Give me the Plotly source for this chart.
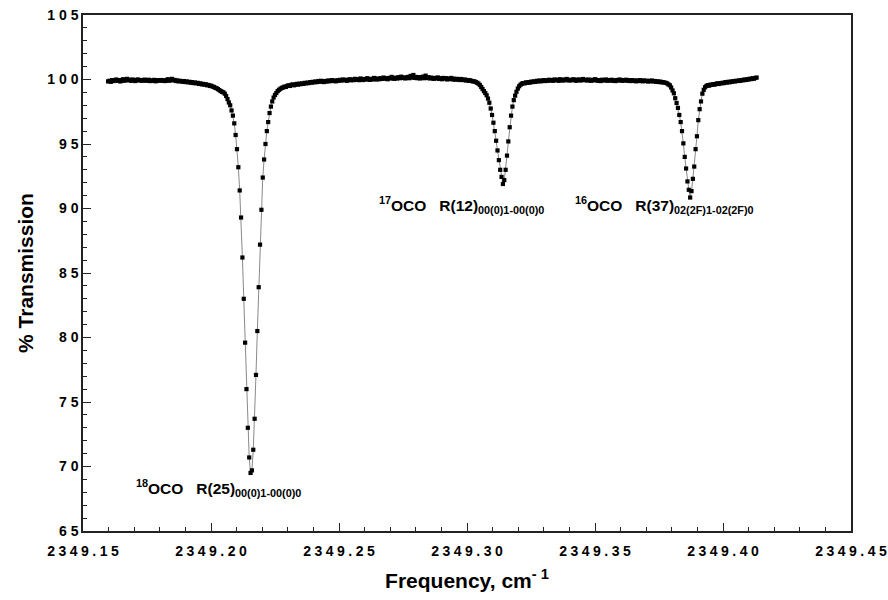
import plotly.graph_objects as go

# Sampling grid of the spectrum (cm-1)
FREQ_START = 2349.1598
FREQ_STEP = 0.00053

# % Transmission, one value per sample
transmission = [
    99.85, 99.9, 99.82, 99.95, 99.88, 99.92, 100.0, 99.9, 99.95, 99.85,
    99.92, 100.02, 99.9, 99.97, 100.05, 99.93, 99.98, 99.9, 100.0, 99.95,
    99.88, 99.97, 100.0, 99.92, 99.96, 99.9, 99.95, 99.99, 99.9, 99.94,
    99.98, 99.88, 99.93, 99.9, 99.97, 99.86, 99.92, 99.95, 99.9, 99.96,
    99.9, 99.94, 99.88, 99.95, 100.02, 99.9, 99.96, 100.05, 99.93, 99.97,
    99.88, 99.93, 99.85, 99.9, 99.87, 99.82, 99.88, 99.8, 99.85, 99.78,
    99.82, 99.75, 99.8, 99.72, 99.77, 99.7, 99.74, 99.66, 99.7, 99.62,
    99.66, 99.6, 99.63, 99.55, 99.58, 99.5, 99.52, 99.45, 99.42, 99.36,
    99.32, 99.25, 99.18, 99.1, 99.05, 99.0, 98.9, 98.72, 98.48, 98.22,
    98.0, 97.6, 97.2, 96.6, 95.7, 94.6, 93.2, 91.4, 89.3, 86.2,
    83.0, 79.6, 76.0, 73.0, 70.7, 69.5, 69.7, 71.3, 73.7, 77.1,
    80.5, 83.9, 87.2, 89.9, 92.4, 93.8, 95.0, 96.0, 96.7, 97.4,
    97.9, 98.3, 98.6, 98.8, 98.95, 99.1, 99.2, 99.28, 99.35, 99.38,
    99.45, 99.42, 99.5, 99.55, 99.5, 99.58, 99.62, 99.55, 99.6, 99.66,
    99.6, 99.68, 99.64, 99.7, 99.66, 99.74, 99.7, 99.76, 99.72, 99.8,
    99.75, 99.82, 99.78, 99.85, 99.8, 99.88, 99.82, 99.9, 99.85, 99.8,
    99.88, 99.84, 99.92, 99.86, 99.9, 99.95, 99.88, 99.92, 99.86, 99.94,
    99.9, 99.97, 99.92, 100.0, 99.94, 99.98, 99.9, 99.96, 100.02, 99.94,
    100.0, 99.95, 100.05, 99.98, 100.02, 99.95, 100.08, 100.0, 99.96, 100.04,
    100.0, 100.1, 100.02, 99.97, 100.05, 100.0, 100.12, 100.04, 100.0, 100.08,
    100.02, 100.1, 100.05, 100.15, 100.06, 100.1, 100.02, 100.12, 100.08, 100.2,
    100.1, 100.05, 100.14, 100.08, 100.18, 100.1, 100.22, 100.12, 100.16, 100.08,
    100.14, 100.2, 100.1, 100.28, 100.15, 100.35, 100.12, 100.2, 100.1, 100.18,
    100.08, 100.15, 100.22, 100.1, 100.3, 100.12, 100.18, 100.08, 100.15, 100.1,
    100.05, 100.12, 100.08, 100.16, 100.05, 100.1, 100.02, 100.12, 100.06, 100.1,
    100.0, 100.08, 100.04, 100.12, 100.0, 100.06, 99.98, 100.05, 100.02, 99.96,
    100.04, 99.98, 99.95, 100.0, 99.92, 99.96, 99.9, 99.94, 99.88, 99.85,
    99.86, 99.8, 99.75, 99.68, 99.57, 99.42, 99.26, 99.1, 98.95, 98.78,
    98.52, 98.2, 97.75, 97.25, 96.65, 96.0, 95.25, 94.5, 93.75, 93.0,
    92.45, 91.9, 92.2, 93.0, 94.1, 95.2, 96.3, 97.2, 97.9, 98.4,
    98.75, 99.05, 99.3, 99.48, 99.6, 99.68, 99.72, 99.7, 99.78, 99.74,
    99.8, 99.76, 99.84, 99.8, 99.86, 99.82, 99.9, 99.85, 99.92, 99.86,
    99.9, 99.95, 99.88, 99.94, 99.9, 99.98, 99.92, 99.96, 99.9, 100.0,
    99.94, 99.98, 99.9, 100.02, 99.95, 99.92, 100.0, 99.94, 100.04, 99.96,
    99.92, 99.98, 99.94, 100.02, 99.96, 99.9, 99.98, 100.0, 99.92, 99.96,
    100.04, 99.95, 99.98, 99.92, 100.0, 99.94, 99.9, 99.98, 99.93, 100.02,
    99.96, 99.9, 99.95, 99.88, 99.98, 99.92, 99.96, 100.0, 99.9, 99.95,
    99.92, 99.98, 99.9, 99.94, 99.88, 99.96, 99.92, 100.0, 99.94, 99.9,
    99.96, 99.92, 99.98, 99.9, 99.94, 99.88, 99.95, 99.9, 99.93, 99.86,
    99.92, 99.88, 99.95, 99.9, 99.86, 99.93, 99.88, 99.9, 99.84, 99.9,
    99.86, 99.92, 99.85, 99.88, 99.82, 99.86, 99.8, 99.84, 99.78, 99.8,
    99.76, 99.74, 99.7, 99.62, 99.55, 99.38, 99.15, 98.93, 98.55, 98.18,
    97.8, 97.25, 96.7, 96.0, 95.05, 94.0, 93.1, 92.1, 91.45, 90.85,
    91.35, 92.3, 93.25, 94.6, 95.6, 96.85, 97.7, 98.3, 98.9, 99.2,
    99.4, 99.5, 99.56, 99.52, 99.6, 99.58, 99.64, 99.6, 99.66, 99.7,
    99.65, 99.72, 99.7, 99.75, 99.72, 99.8, 99.76, 99.82, 99.78, 99.84,
    99.82, 99.88, 99.85, 99.9, 99.88, 99.93, 99.9, 99.96, 99.94, 100.0,
    99.96, 100.02, 100.0, 100.06, 100.03, 100.1, 100.06, 100.12, 100.15,
]

frequency = [FREQ_START + FREQ_STEP * i for i in range(len(transmission))]

# Axis ticks
x_tickvals = [2349.15, 2349.20, 2349.25, 2349.30, 2349.35, 2349.40, 2349.45]
x_ticktext = ["2349.15", "2349.20", "2349.25", "2349.30", "2349.35", "2349.40", "2349.45"]
y_tickvals = [65, 70, 75, 80, 85, 90, 95, 100, 105]
y_ticktext = ["65", "70", "75", "80", "85", "90", "95", "100", "105"]

# Line labels: (isotopologue, branch, vibrational transition, x, y)
labels = [
    ("18", "R(25)", "00(0)1-00(0)0", 2349.1700, 68.3),
    ("17", "R(12)", "00(0)1-00(0)0", 2349.2648, 90.3),
    ("16", "R(37)", "02(2F)1-02(2F)0", 2349.3414, 90.3),
]


def spaced(s, sep):
    return sep.join(list(s))


FONT = "Liberation Sans, Arial, Helvetica, sans-serif"

fig = go.Figure()
fig.add_trace(go.Scatter(
    x=frequency, y=transmission, mode="lines+markers",
    line=dict(color="#8a8a8a", width=1),
    marker=dict(symbol="square", size=4.2, color="black"),
    showlegend=False, hoverinfo="x+y",
))

for iso, branch, trans, xx, yy in labels:
    fig.add_annotation(
        x=xx, y=yy, xref="x", yref="y", xanchor="left", yanchor="middle",
        text=f"<sup>{iso}</sup>OCO\u00a0\u00a0\u00a0{branch}<sub>{trans}</sub>",
        showarrow=False,
        font=dict(family=FONT, size=15.5, color="black", weight="bold"),
    )

axis_common = dict(
    showgrid=False, zeroline=False, showline=True, linecolor="#222",
    linewidth=1.5, mirror=True, ticks="inside", tickcolor="#222",
    tickwidth=1.2, ticklen=8,
    tickfont=dict(family=FONT, size=14, color="black", weight="bold"),
)

fig.update_layout(
    width=888, height=600,
    margin=dict(l=83, r=37, t=15, b=69, autoexpand=False),
    paper_bgcolor="white", plot_bgcolor="white",
    template="none",
    xaxis=dict(
        range=[2349.15, 2349.45], tickmode="array", tickvals=x_tickvals,
        ticktext=[spaced(t, "\u2005") for t in x_ticktext],
        ticklabelstandoff=6,
        minor=dict(ticks="inside", ticklen=4, dtick=0.01, tickcolor="#222", tickwidth=1.2),
        title=dict(text="Frequency, cm<sup>- 1</sup>", standoff=16,
                   font=dict(family=FONT, size=21, color="black", weight="bold")),
        **axis_common,
    ),
    yaxis=dict(
        range=[65, 105], tickmode="array", tickvals=y_tickvals,
        ticktext=[spaced(t, " ") for t in y_ticktext],
        minor=dict(ticks="inside", ticklen=4, dtick=1, tickcolor="#222", tickwidth=1.2),
        title=dict(text="% Transmission", standoff=8,
                   font=dict(family=FONT, size=21, color="black", weight="bold")),
        **axis_common,
    ),
)

fig.write_html("out.html")
